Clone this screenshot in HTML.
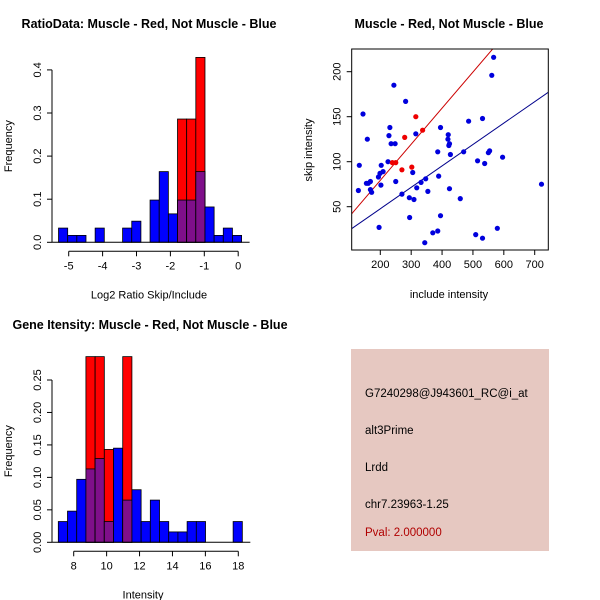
<!DOCTYPE html>
<html><head><meta charset="utf-8"><style>
body{margin:0;background:#fff}
svg{display:block;font-family:"Liberation Sans",sans-serif}
</style></head><body>
<svg id="s" width="600" height="600" viewBox="0 0 600 600" xmlns="http://www.w3.org/2000/svg">
<rect width="600" height="600" fill="#fff"/>
<g id="g1"></g>
<g id="g2"></g>
<g id="g3"></g>
<g>
<rect x="351" y="349" width="198" height="202" fill="#e6c8c1"/>
<text x="365" y="397" font-size="11.5" fill="#000">G7240298@J943601_RC@i_at</text>
<text x="365" y="434" font-size="11.5" fill="#000">alt3Prime</text>
<text x="365" y="471" font-size="11.5" fill="#000">Lrdd</text>
<text x="365" y="508" font-size="11.5" fill="#000">chr7.23963-1.25</text>
<text x="365" y="536" font-size="11.5" fill="#b00000">Pval: 2.000000</text>
</g>
</svg>
<script>
// ---- Data: ratio histogram
const ratioBinStart = -5.3, ratioBinWidth = 0.27;
const ratioBlue = [0.033,0.016,0.016,0,0.033,0,0,0.033,0.049,0,0.098,0.164,0.066,0.098,0.098,0.164,0.082,0.016,0.033,0.016];
const ratioRed  = [0,0,0,0,0,0,0,0,0,0,0,0,0,0.286,0.286,0.429,0,0,0,0];
const ratioXTicks = [-5,-4,-3,-2,-1,0];
const ratioYTicks = [0.0,0.1,0.2,0.3,0.4];
// ---- Data: gene intensity histogram
const intBinStart = 7.065, intBinWidth = 0.559;
const intBlue = [0.032,0.048,0.097,0.113,0.129,0.032,0.145,0.065,0.081,0.032,0.065,0.032,0.016,0.016,0.032,0.032,0,0,0,0.032];
const intRed  = [0,0,0,0.286,0.286,0.143,0,0.286,0,0,0,0,0,0,0,0,0,0,0,0];
const intXTicks = [8,10,12,14,16,18];
const intYTicks = [0.00,0.05,0.10,0.15,0.20,0.25];
// ---- Data: scatter
const blueX = [132,129,144,158,155,161,168,168,172,194,199,203,202,209,196,225,228,231,235,244,248,250,270,282,294,295,305,309,315,318,332,347,354,344,370,386,386,389,395,395,420,419,422,424,427,424,459,470,486,509,515,531,531,538,550,554,561,567,579,596,722];
const blueY = [96,68,153,125,76,76,78,69,66,83,87,96,74,89,27,100,129,138,120,185,120,78,64,167,60,38,88,58,131,71,77,81,67,10,21,23,111,84,138,40,130,125,118,120,108,70,59,111,145,19,101,148,15,98,110,112,196,216,26,105,75];
const redX = [239,250,270,279,302,315,337];
const redY = [99,99,91,127,94,150,135];
const redFit = [-0.9, 0.401];   // intercept, slope
const blueFit = [0.1, 0.238];
const scatXTicks = [200,300,400,500,600,700];
const scatYTicks = [50,100,150,200];

const NS="http://www.w3.org/2000/svg";
function mk(parent,tag,attrs,text){const e=document.createElementNS(NS,tag);for(const k in attrs)e.setAttribute(k,attrs[k]);if(text!==undefined)e.textContent=text;parent.appendChild(e);return e;}

function hist(g,o){
  const sx=v=>o.x0px+(v-o.x0)*o.kx, sy=v=>o.y0px-v*o.ky;
  const tt=mk(g,'text',{x:o.titleX,y:o.titleY,'font-size':12.5,'font-weight':'bold','text-anchor':'middle'},o.title);
  
  
  for(let i=0;i<o.blue.length;i++){
    const a=sx(o.start+i*o.w), b=sx(o.start+(i+1)*o.w), bl=o.blue[i], rd=o.red[i];
    if(bl>0){const r=mk(g,'rect',{x:a,y:sy(bl),width:b-a,height:sy(0)-sy(bl),fill:'#0000ff',stroke:'#000','stroke-width':0.8});
      
      }
    if(rd>0){const r=mk(g,'rect',{x:a,y:sy(rd),width:b-a,height:sy(0)-sy(rd),fill:'#ff0000',stroke:'#000','stroke-width':0.8});
      
      
      const m=Math.min(bl,rd);
      if(m>0){const p=mk(g,'rect',{x:a,y:sy(m),width:b-a,height:sy(0)-sy(m),fill:'#7f0f8a',stroke:'#000','stroke-width':0.8});
        
        }}
  }
  const ya=mk(g,'g',{});
  
  
  mk(ya,'line',{x1:o.yAxisX,x2:o.yAxisX,y1:sy(o.yt[0]),y2:sy(o.yt[o.yt.length-1]),stroke:'#000'});
  o.yt.forEach(t=>{mk(ya,'line',{x1:o.yAxisX-5,x2:o.yAxisX,y1:sy(t),y2:sy(t),stroke:'#000'});
    mk(ya,'text',{x:0,y:0,'font-size':11,'text-anchor':'middle',transform:`translate(${o.yAxisX-11},${sy(t)}) rotate(-90)`},t.toFixed(o.yd));});
  mk(ya,'text',{x:0,y:0,'font-size':11,'text-anchor':'middle',transform:`translate(${12},${(sy(o.yt[0])+sy(o.yt[o.yt.length-1]))/2-10}) rotate(-90)`},'Frequency');
  const xa=mk(g,'g',{});
  
  
  const ay=o.y0px+9;
  mk(xa,'line',{x1:sx(o.xt[0]),x2:sx(o.xt[o.xt.length-1]),y1:ay,y2:ay,stroke:'#000'});
  o.xt.forEach(t=>{mk(xa,'line',{x1:sx(t),x2:sx(t),y1:ay,y2:ay+5,stroke:'#000'});
    mk(xa,'text',{x:sx(t),y:ay+18,'font-size':11,'text-anchor':'middle'},String(t));});
  mk(xa,'text',{x:o.xlabX,y:ay+47,'font-size':11,'text-anchor':'middle'},o.xlab);
  mk(g,'line',{x1:o.yAxisX,x2:sx(o.start+o.blue.length*o.w)+8,y1:sy(0),y2:sy(0),stroke:'#000'});
}

hist(document.getElementById('g1'),{title:'RatioData: Muscle - Red, Not Muscle - Blue',titleX:149,titleY:28,
  start:ratioBinStart,w:ratioBinWidth,blue:ratioBlue,red:ratioRed,xt:ratioXTicks,yt:ratioYTicks,yd:1,
  x0:-5,x0px:68.7,kx:33.9,y0px:242.3,ky:431,yAxisX:52,xlab:'Log2 Ratio Skip/Include',xlabX:149});
hist(document.getElementById('g3'),{title:'Gene Itensity: Muscle - Red, Not Muscle - Blue',titleX:150,titleY:329,
  start:intBinStart,w:intBinWidth,blue:intBlue,red:intRed,xt:intXTicks,yt:intYTicks,yd:2,
  x0:8,x0px:73.7,kx:16.46,y0px:542.3,ky:649.2,yAxisX:52,xlab:'Intensity',xlabX:143});

(function(){
  const g=document.getElementById('g2');
  const L=351.7,R=548.3,T=49,B=250;
  const sx=v=>380.3+(v-200)*0.3088, sy=v=>206.7-(v-50)*0.9;
  const tt=mk(g,'text',{x:449,y:28,'font-size':12.5,'font-weight':'bold','text-anchor':'middle'},'Muscle - Red, Not Muscle - Blue');
  
  
  mk(g,'defs',{}).innerHTML='<clipPath id="pc"><rect x="'+L+'" y="'+T+'" width="'+(R-L)+'" height="'+(B-T)+'"/></clipPath>';
  const xa=mk(g,'g',{});
  
  
  mk(xa,'line',{x1:sx(scatXTicks[0]),x2:sx(scatXTicks[scatXTicks.length-1]),y1:B,y2:B,stroke:'#000'});
  scatXTicks.forEach(t=>{mk(xa,'line',{x1:sx(t),x2:sx(t),y1:B,y2:B+5,stroke:'#000'});
    mk(xa,'text',{x:sx(t),y:B+18,'font-size':11,'text-anchor':'middle'},String(t));});
  mk(xa,'text',{x:449,y:298,'font-size':11,'text-anchor':'middle'},'include intensity');
  const ya=mk(g,'g',{});
  
  
  scatYTicks.forEach(t=>{mk(ya,'line',{x1:L-5,x2:L,y1:sy(t),y2:sy(t),stroke:'#000'});
    mk(ya,'text',{x:0,y:0,'font-size':11,'text-anchor':'middle',transform:`translate(${L-11},${sy(t)}) rotate(-90)`},String(t));});
  mk(ya,'text',{x:0,y:0,'font-size':11,'text-anchor':'middle',transform:`translate(312,150) rotate(-90)`},'skip intensity');
  const lines=mk(g,'g',{'clip-path':'url(#pc)'});
  const x1=0,x2=800;
  const bl=mk(lines,'line',{x1:sx(x1),x2:sx(x2),y1:sy(blueFit[0]+blueFit[1]*x1),y2:sy(blueFit[0]+blueFit[1]*x2),stroke:'#00008b'});
  
  
  const rl=mk(lines,'line',{x1:sx(x1),x2:sx(x2),y1:sy(redFit[0]+redFit[1]*x1),y2:sy(redFit[0]+redFit[1]*x2),stroke:'#cc0000'});
  
  
  blueX.forEach((x,i)=>{const c=mk(g,'circle',{cx:sx(x),cy:sy(blueY[i]),r:2.6,fill:'#0000dd'});
    
    });
  redX.forEach((x,i)=>{const c=mk(g,'circle',{cx:sx(x),cy:sy(redY[i]),r:2.6,fill:'#ee0000'});
    
    });
  const f=mk(g,'rect',{x:L,y:T,width:R-L,height:B-T,fill:'none',stroke:'#000'});
  
  
})();
</script>
</body></html>
